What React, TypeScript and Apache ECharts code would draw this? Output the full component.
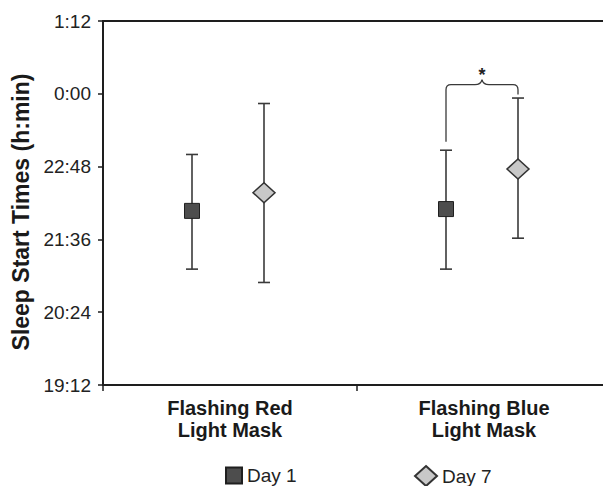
import React, { useEffect, useRef } from "react";
import * as echarts from "echarts";

// ---- data (hours, 24+ = after midnight) ----
const categories = ["Flashing Red\nLight Mask", "Flashing Blue\nLight Mask"];
const day1Mean = [22.07, 22.1];
const day1Low = [21.11, 21.11];
const day1High = [23.0, 23.07];
const day7Mean = [22.37, 22.76];
const day7Low = [20.89, 21.62];
const day7High = [23.84, 23.93];
const yMin = 19.2;
const yMax = 25.2;
const yInterval = 1.2;
// significance bracket (between Day 1 and Day 7 of the blue mask)
const bracketCategory = [1];
const bracketLeftEnd = [23.21];
const bracketRightEnd = [23.99];
const bracketLevel = [24.15];
const bracketLabel = ["*"];

const FONT = "'Liberation Sans', Arial, Helvetica, sans-serif";
const DAY1_OFFSET = -38;
const DAY7_OFFSET = 34;

function fmt(v: number) {
  const total = Math.round(v * 60);
  const h = Math.floor(total / 60) % 24;
  const m = total % 60;
  return `${h}:${String(m).padStart(2, "0")}`;
}

function errorBarSeries(low: number[], high: number[], offset: number) {
  return {
    type: "custom",
    name: "err" + offset,
    z: 2,
    clip: false,
    encode: { x: 0, y: [1, 2] },
    data: categories.map((_, i) => [i, low[i], high[i]]),
    renderItem: (params: any, api: any) => {
      const c = api.value(0);
      const lo = api.coord([c, api.value(1)]);
      const hi = api.coord([c, api.value(2)]);
      const x = lo[0] + offset;
      const st = { stroke: "#3a3a3a", lineWidth: 1.6 };
      return {
        type: "group",
        children: [
          { type: "line", shape: { x1: x, y1: hi[1], x2: x, y2: lo[1] }, style: st },
          { type: "line", shape: { x1: x - 6, y1: hi[1], x2: x + 6, y2: hi[1] }, style: st },
          { type: "line", shape: { x1: x - 6, y1: lo[1], x2: x + 6, y2: lo[1] }, style: st },
        ],
      };
    },
  };
}

export default function App() {
  const ref = useRef<HTMLDivElement>(null);
  useEffect(() => {
    if (!ref.current) return;
    const chart = echarts.init(ref.current, null, { renderer: "svg" });
    const option: any = {
      animation: false,
      backgroundColor: "#ffffff",
      textStyle: { fontFamily: FONT },
      grid: {
        left: 103,
        top: 21,
        width: 508,
        height: 364,
        containLabel: false,
        outerBoundsMode: "none",
        show: false,
      },
      xAxis: [
        {
          type: "category",
          data: categories,
          boundaryGap: true,
          axisLine: { lineStyle: { color: "#1e1e1e", width: 2 } },
          axisTick: { show: true, length: 6, lineStyle: { color: "#1e1e1e", width: 1.5 } },
          axisLabel: {
            margin: 12,
            fontSize: 20,
            fontWeight: "bold",
            color: "#1a1a1a",
            lineHeight: 22,
            fontFamily: FONT,
          },
          splitLine: { show: false },
        },
        {
          type: "category",
          position: "top",
          data: categories,
          axisLine: { show: true, lineStyle: { color: "#1e1e1e", width: 2 } },
          axisTick: { show: false },
          axisLabel: { show: false },
          splitLine: { show: false },
        },
      ],
      yAxis: {
        type: "value",
        min: yMin,
        max: yMax,
        interval: yInterval,
        axisLine: { show: true, lineStyle: { color: "#1e1e1e", width: 2 } },
        axisTick: { show: true, length: 5, lineStyle: { color: "#1e1e1e", width: 1.5 } },
        axisLabel: { formatter: fmt, fontSize: 19, color: "#222", margin: 12, fontFamily: FONT },
        splitLine: { show: false },
      },
      legend: [
        {
          data: ["Day 1"],
          left: 225,
          top: 466,
          padding: 0,
          itemWidth: 16,
          itemHeight: 16,
          itemGap: 5,
          textStyle: { fontSize: 19, color: "#222", fontFamily: FONT },
        },
        {
          data: ["Day 7"],
          left: 414,
          top: 465,
          padding: 0,
          itemWidth: 22,
          itemHeight: 20,
          textStyle: { fontSize: 19, color: "#222", fontFamily: FONT },
        },
      ],
      graphic: [
        {
          type: "text",
          x: 21,
          y: 212,
          rotation: Math.PI / 2,
          style: {
            text: "Sleep Start Times (h:min)",
            font: `bold 23px ${FONT}`,
            fill: "#1a1a1a",
            align: "center",
            verticalAlign: "middle",
            textAlign: "center",
            textVerticalAlign: "middle",
          },
        },
      ],
      series: [
        errorBarSeries(day1Low, day1High, DAY1_OFFSET),
        errorBarSeries(day7Low, day7High, DAY7_OFFSET),
        {
          type: "scatter",
          name: "Day 1",
          z: 5,
          symbol: "rect",
          symbolSize: 15,
          symbolOffset: [DAY1_OFFSET, 0],
          itemStyle: { color: "#4d4d4d", borderColor: "#1f1f1f", borderWidth: 1, opacity: 1 },
          data: categories.map((_, i) => [i, day1Mean[i]]),
        },
        {
          type: "scatter",
          name: "Day 7",
          z: 5,
          symbol: "diamond",
          symbolSize: [22, 20],
          symbolOffset: [DAY7_OFFSET, 0],
          itemStyle: { color: "#c8c8c8", borderColor: "#333", borderWidth: 1.5, opacity: 1 },
          data: categories.map((_, i) => [i, day7Mean[i]]),
        },
        {
          type: "custom",
          name: "bracket",
          z: 3,
          clip: false,
          encode: { x: 0, y: [1, 2, 3] },
          data: bracketCategory.map((c, i) => [c, bracketLeftEnd[i], bracketRightEnd[i], bracketLevel[i]]),
          renderItem: (params: any, api: any) => {
            const c = api.value(0);
            const l = api.coord([c, api.value(1)]);
            const rr = api.coord([c, api.value(2)]);
            const lv = api.coord([c, api.value(3)]);
            const xL = l[0] + DAY1_OFFSET;
            const xR = l[0] + DAY7_OFFSET;
            const xm = (xL + xR) / 2;
            const y = lv[1];
            const r = 5;
            const p = 5;
            const d = [
              `M ${xL} ${l[1]}`,
              `L ${xL} ${y + r}`,
              `Q ${xL} ${y} ${xL + r} ${y}`,
              `L ${xm - 7} ${y}`,
              `Q ${xm - 1} ${y} ${xm} ${y - p}`,
              `Q ${xm + 1} ${y} ${xm + 7} ${y}`,
              `L ${xR - r} ${y}`,
              `Q ${xR} ${y} ${xR} ${y + r}`,
              `L ${xR} ${rr[1]}`,
            ].join(" ");
            return {
              type: "group",
              children: [
                {
                  type: "path",
                  shape: { pathData: d },
                  style: { stroke: "#3a3a3a", lineWidth: 1.3, fill: null },
                },
                {
                  type: "text",
                  x: xm,
                  y: y - p - 14,
                  style: {
                    text: bracketLabel[params.dataIndex],
                    font: `bold 18px ${FONT}`,
                    fill: "#222",
                    align: "center",
                    verticalAlign: "top",
                  },
                },
              ],
            };
          },
        },
      ],
    };
    chart.setOption(option);
    return () => chart.dispose();
  }, []);
  return (
    <div
      ref={ref}
      style={{ position: "fixed", left: 0, top: 0, width: 603, height: 486 }}
    />
  );
}
